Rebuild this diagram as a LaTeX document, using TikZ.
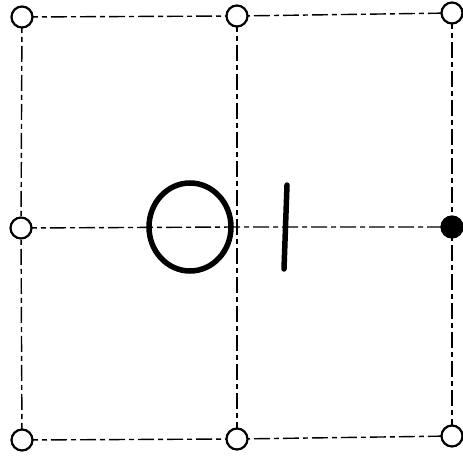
\documentclass[tikz,border=0pt]{standalone}
\begin{document}
\begin{tikzpicture}[x=1pt,y=-1pt,
  vtx/.style={circle,draw,line width=2.2pt,fill=white,minimum size=21pt,inner sep=0pt},
  vfull/.style={vtx,fill=black},
  gridline/.style={line width=1.4pt,dash pattern=on 16pt off 4pt on 5pt off 4pt},
  glyph/.style={line width=5.5pt,line cap=round}]
\useasboundingbox (0,0) rectangle (463,457);
\coordinate (a1) at (22,17);
\coordinate (a2) at (237,16);
\coordinate (a3) at (452,13);
\coordinate (b1) at (21,228);
\coordinate (b2) at (237,227);
\coordinate (b3) at (452,227);
\coordinate (c1) at (22,440);
\coordinate (c2) at (237,439);
\coordinate (c3) at (452,436);
\draw[gridline] (a1) -- (a2) -- (a3);
\draw[gridline] (b1) -- (b2) -- (b3);
\draw[gridline] (c1) -- (c2) -- (c3);
\draw[gridline] (a1) -- (b1) -- (c1);
\draw[gridline] (a2) -- (b2) -- (c2);
\draw[gridline] (a3) -- (b3) -- (c3);
\node[vtx] (n11) at (a1) {};
\node[vtx] (n12) at (a2) {};
\node[vtx] (n13) at (a3) {};
\node[vtx] (n21) at (b1) {};
\node[vfull] (n23) at (b3) {};
\node[vtx] (n31) at (c1) {};
\node[vtx] (n32) at (c2) {};
\node[vtx] (n33) at (c3) {};
\draw[glyph] (190,227) ellipse [x radius=41pt, y radius=44pt];
\draw[glyph] (287,185) -- (284,269);
\end{tikzpicture}
\end{document}
